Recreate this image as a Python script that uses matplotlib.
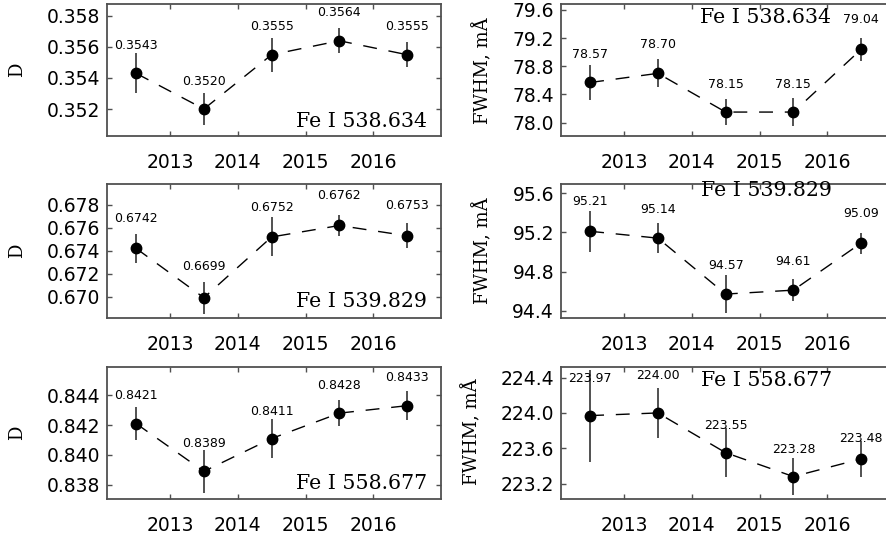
import matplotlib
matplotlib.use("Agg")
import matplotlib.pyplot as plt
from matplotlib.ticker import FormatStrFormatter

years = [2012.5, 2013.5, 2014.5, 2015.5, 2016.5]
year_ticks = [2013, 2014, 2015, 2016]

d_5386 = [0.3543, 0.3520, 0.3555, 0.3564, 0.3555]
d_5386_err = [0.0013, 0.0010, 0.0011, 0.0008, 0.0008]
fw_5386 = [78.57, 78.70, 78.15, 78.15, 79.04]
fw_5386_err = [0.25, 0.20, 0.18, 0.20, 0.16]

d_5398 = [0.6742, 0.6699, 0.6752, 0.6762, 0.6753]
d_5398_err = [0.0013, 0.0014, 0.0017, 0.0009, 0.0011]
fw_5398 = [95.21, 95.14, 94.57, 94.61, 95.09]
fw_5398_err = [0.21, 0.155, 0.19, 0.11, 0.107]

d_5587 = [0.8421, 0.8389, 0.8411, 0.8428, 0.8433]
d_5587_err = [0.0011, 0.00145, 0.0013, 0.00087, 0.00095]
fw_5587 = [223.97, 224.00, 223.55, 223.28, 223.48]
fw_5587_err = [0.52, 0.28, 0.28, 0.21, 0.20]

line_names = ["Fe I 538.634", "Fe I 539.829", "Fe I 558.677"]

W, H = 887, 538
fig = plt.figure(figsize=(W / 100, H / 100), dpi=100)

def box(l, t, r, b):
    return [l / W, 1 - b / H, (r - l) / W, (b - t) / H]

panels = [
    (box(107, 4, 441, 136), d_5386, d_5386_err, (0.35026, 0.35877),
     [0.352, 0.354, 0.356, 0.358], "%.3f", "%.4f", line_names[0], (0.958, 0.11, "right"),
     [28, 28, 28, 28, 28], "D", (17, 70)),
    (box(561, 4, 895, 136), fw_5386, fw_5386_err, (77.81, 79.685),
     [78.0, 78.4, 78.8, 79.2, 79.6], "%.1f", "%.2f", line_names[0], (0.415, 0.895, "left"),
     [28, 29, 28, 28, 30], "FWHM, mÅ", (483, 71)),
    (box(107, 184, 441, 318), d_5398, d_5398_err, (0.66813, 0.67982),
     [0.670, 0.672, 0.674, 0.676, 0.678], "%.3f", "%.4f", line_names[1], (0.958, 0.125, "right"),
     [29.5, 31, 29, 30, 30.5], "D", (17, 251)),
    (box(561, 184, 895, 318), fw_5398, fw_5398_err, (94.326, 95.692),
     [94.4, 94.8, 95.2, 95.6], "%.1f", "%.2f", line_names[1], (0.42, 0.955, "left"),
     [30, 29, 28.5, 28.5, 30], "FWHM, mÅ", (483, 251)),
    (box(107, 367, 441, 499), d_5587, d_5587_err, (0.83705, 0.84589),
     [0.838, 0.840, 0.842, 0.844], "%.3f", "%.4f", line_names[2], (0.958, 0.12, "right"),
     [28, 28, 27.5, 28, 28], "D", (17, 433)),
    (box(561, 367, 895, 499), fw_5587, fw_5587_err, (223.026, 224.52),
     [223.2, 223.6, 224.0, 224.4], "%.1f", "%.2f", line_names[2], (0.42, 0.90, "left"),
     [37, 37.5, 27.5, 27.5, 20], "FWHM, mÅ", (472, 432)),
]

spine_col = "#505050"
for (pos, vals, errs, ylim, yt, fmt, lfmt, name, npos, offs, ylab, ylpos) in panels:
    ax = fig.add_axes(pos)
    ax.errorbar(years, vals, yerr=errs, fmt="none", ecolor="#222222", elinewidth=1.1, capsize=0, zorder=2)
    ax.plot(years, vals, color="black", lw=1.0, linestyle=(0, (10, 8.5)), zorder=2)
    ax.plot(years, vals, "o", color="black", ms=7.5, zorder=3)
    for x, v, o in zip(years, vals, offs):
        ax.annotate(lfmt % v, (x, v), xytext=(0, o), textcoords="offset pixels",
                    ha="center", va="center", fontsize=9, family="DejaVu Sans", zorder=4)
    ax.set_xlim(2012.07, 2017.0)
    ax.set_ylim(*ylim)
    ax.set_xticks(year_ticks)
    ax.set_yticks(yt)
    ax.yaxis.set_major_formatter(FormatStrFormatter(fmt))
    ax.tick_params(axis="both", direction="in", length=3.5, width=1.0, color=spine_col,
                   top=True, right=True, labelsize=13.5)
    ax.tick_params(axis="x", pad=12)
    ax.tick_params(axis="y", pad=5)
    for lab in ax.get_xticklabels() + ax.get_yticklabels():
        lab.set_family("DejaVu Sans")
    for s in ax.spines.values():
        s.set_color(spine_col)
        s.set_linewidth(1.3)
    ax.text(npos[0], npos[1], name, transform=ax.transAxes, ha=npos[2], va="center",
            fontsize=14.8, family="DejaVu Serif")
    fig.text(ylpos[0] / W, 1 - ylpos[1] / H, ylab, rotation=90, ha="center", va="center",
             fontsize=13, family="DejaVu Serif")

fig.savefig("out.png", dpi=100)
